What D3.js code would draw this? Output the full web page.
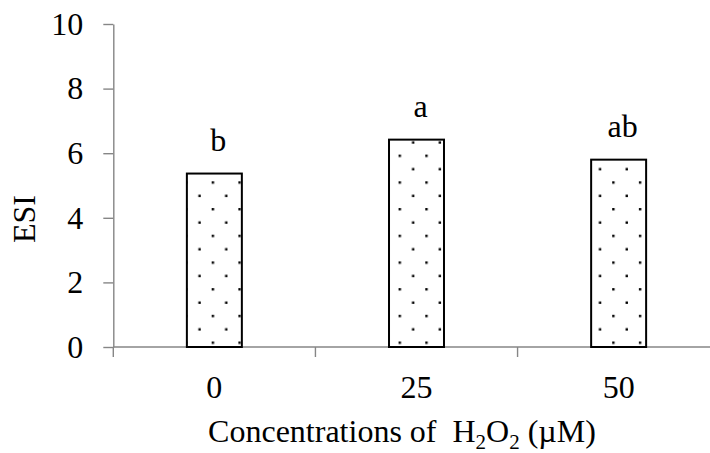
<!DOCTYPE html>
<html>
<head>
<meta charset="utf-8">
<script src="https://cdn.jsdelivr.net/npm/d3@7"></script>
<style>
  html, body { margin: 0; padding: 0; background: #fff; }
  svg { display: block; }
  text { font-family: "Liberation Serif", "Times New Roman", serif; fill: #000; }
</style>
</head>
<body>
<svg id="chart" width="710" height="453"></svg>
<script>
// H2O2 concentration groups (µM) and the mean ESI for each
const categories = ["0", "25", "50"];
const esiValues = [5.37, 6.42, 5.80];
const groupLetters = ["b", "a", "ab"];
const yTicks = [0, 2, 4, 6, 8, 10];

const svg = d3.select("#chart");
const axisGrey = "#868686";
const serif = '"Liberation Serif", "Times New Roman", serif';
const fontSize = 32;

const plot = { left: 113.3, right: 719.7, top: 24, bottom: 347 };

const x = d3.scaleBand()
  .domain(categories)
  .range([plot.left, plot.right])
  .paddingInner(0.728)
  .paddingOuter(0.364);

const y = d3.scaleLinear()
  .domain([0, 10])
  .range([plot.bottom, plot.top]);

// Dotted fill used inside the bars
const cell = 26.7;
const defs = svg.append("defs");
const pat = defs.append("pattern")
  .attr("id", "dots")
  .attr("patternUnits", "userSpaceOnUse")
  .attr("x", x(categories[0]) + 6)
  .attr("y", y(0) - 24.3)
  .attr("width", cell)
  .attr("height", cell);
pat.append("rect").attr("width", cell).attr("height", cell).attr("fill", "#fff");
[[cell / 4, cell / 4], [cell * 3 / 4, cell * 3 / 4]].forEach(([cx, cy]) => {
  pat.append("rect")
    .attr("x", cx - 1.2).attr("y", cy - 1.2)
    .attr("width", 2.4).attr("height", 2.4)
    .attr("fill", "#000");
});

// Y axis
const yAxis = svg.append("g")
  .attr("transform", `translate(${plot.left},0)`)
  .style("font-family", serif)
  .call(d3.axisLeft(y).tickValues(yTicks).tickFormat(d3.format("d"))
    .tickSize(10).tickSizeOuter(0).tickPadding(20));
yAxis.select(".domain").attr("stroke", axisGrey).attr("stroke-width", 1.4);
yAxis.selectAll(".tick line").attr("stroke", axisGrey).attr("stroke-width", 1.4);
yAxis.selectAll(".tick text")
  .style("font-family", serif)
  .attr("font-size", fontSize)
  .attr("fill", "#000");

// X axis: labels under the groups, ticks on the group boundaries
const xAxis = svg.append("g")
  .attr("transform", `translate(0,${plot.bottom})`)
  .style("font-family", serif)
  .call(d3.axisBottom(x).tickSize(0).tickPadding(28));
xAxis.select(".domain").remove();
xAxis.selectAll(".tick line").remove();
xAxis.selectAll(".tick text")
  .style("font-family", serif)
  .attr("font-size", fontSize)
  .attr("fill", "#000");

svg.append("line")
  .attr("x1", plot.left).attr("x2", plot.right)
  .attr("y1", y(0)).attr("y2", y(0))
  .attr("stroke", axisGrey).attr("stroke-width", 1.4);

const gap = (x.step() - x.bandwidth()) / 2;
const boundaries = categories.map(c => x(c) - gap)
  .concat([x(categories[categories.length - 1]) + x.bandwidth() + gap]);
svg.append("g").selectAll("line")
  .data(boundaries)
  .join("line")
  .attr("x1", d => d).attr("x2", d => d)
  .attr("y1", y(0)).attr("y2", y(0) + 10)
  .attr("stroke", axisGrey).attr("stroke-width", 1.4);

// Bars
svg.append("g").selectAll("rect")
  .data(esiValues)
  .join("rect")
  .attr("x", (d, i) => x(categories[i]))
  .attr("y", d => y(d))
  .attr("width", x.bandwidth())
  .attr("height", d => y(0) - y(d))
  .attr("fill", "url(#dots)")
  .attr("stroke", "#000")
  .attr("stroke-width", 2);

// Significance letters above the bars
svg.append("g").selectAll("text")
  .data(esiValues)
  .join("text")
  .attr("x", (d, i) => x(categories[i]) + x.bandwidth() / 2 + 4)
  .attr("y", d => y(d) - 22.5)
  .attr("text-anchor", "middle")
  .attr("font-size", fontSize)
  .text((d, i) => groupLetters[i]);

// Axis titles
const xTitle = svg.append("text")
  .attr("x", 402)
  .attr("y", 442)
  .attr("text-anchor", "middle")
  .attr("font-size", fontSize)
  .style("white-space", "pre");
xTitle.append("tspan").text("Concentrations of  H");
xTitle.append("tspan").attr("font-size", 21).attr("dy", 7).text("2");
xTitle.append("tspan").attr("dy", -7).text("O");
xTitle.append("tspan").attr("font-size", 21).attr("dy", 7).text("2");
xTitle.append("tspan").attr("dy", -7).text(" (µM)");

svg.append("text")
  .attr("transform", "translate(35,219) rotate(-90)")
  .attr("text-anchor", "middle")
  .attr("font-size", fontSize)
  .text("ESI");
</script>
</body>
</html>
